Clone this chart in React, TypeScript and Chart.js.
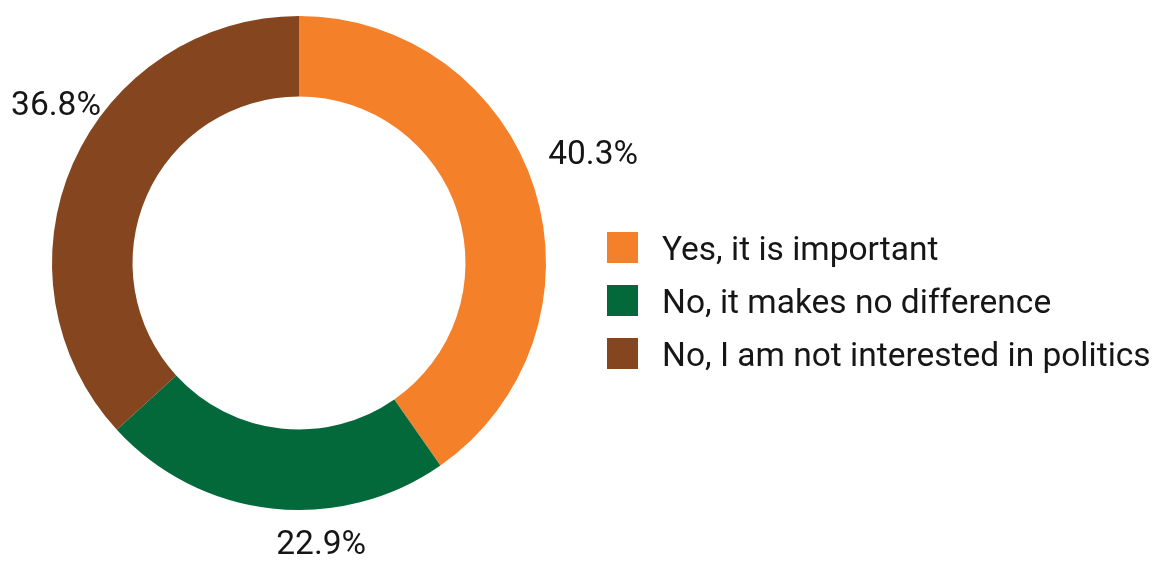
import React, { useEffect, useRef } from "react";
import { Chart, registerables } from "chart.js";

Chart.register(...registerables);

const categories = [
  "Yes, it is important",
  "No, it makes no difference",
  "No, I am not interested in politics",
];
const values = [40.3, 22.9, 36.8];
const valueLabels = ["40.3%", "22.9%", "36.8%"];
const colors = ["#F5802A", "#03683A", "#85461F"];
// small angular nudges (degrees) for the outside labels
const labelAngleShift = [-2.7, -10.8, 9.1];

const FONT = "Roboto, 'Noto Sans', sans-serif";
const TEXT_COLOR = "#161616";
const FONT_SIZE = 33.5;

const outsideLabels = {
  id: "outsideLabels",
  afterDatasetsDraw(chart: any) {
    const ctx = chart.ctx;
    const meta = chart.getDatasetMeta(0);
    ctx.save();
    ctx.font = `${FONT_SIZE}px ${FONT}`;
    ctx.fillStyle = TEXT_COLOR;
    ctx.textAlign = "center";
    ctx.textBaseline = "middle";
    const marginX = 11;
    const marginY = 2;
    meta.data.forEach((arc: any, i: number) => {
      const p = arc.getProps(["x", "y", "startAngle", "endAngle", "outerRadius"], true);
      const mid = (p.startAngle + p.endAngle) / 2 + (labelAngleShift[i] * Math.PI) / 180;
      const dx = Math.cos(mid);
      const dy = Math.sin(mid);
      const text = valueLabels[i];
      const w = ctx.measureText(text).width;
      const hw = w / 2;
      const hh = 12;
      const extent = Math.abs(dx) * hw + Math.abs(dy) * hh;
      let dist = p.outerRadius + 20 + extent;
      // pull inward along the direction until the label fits in the canvas
      for (let k = 0; k < 200; k++) {
        const cx = p.x + dx * dist;
        const cy = p.y + dy * dist;
        if (
          cx - hw >= marginX &&
          cx + hw <= chart.width - marginX &&
          cy - hh >= marginY &&
          cy + hh <= chart.height - marginY
        )
          break;
        dist -= 1;
      }
      ctx.fillText(text, p.x + dx * dist, p.y + dy * dist + 1);
    });
    ctx.restore();
  },
};

const sideLegend = {
  id: "sideLegend",
  afterDraw(chart: any) {
    const ctx = chart.ctx;
    ctx.save();
    ctx.font = `${FONT_SIZE}px ${FONT}`;
    ctx.textAlign = "left";
    ctx.textBaseline = "middle";
    const boxX = 607;
    const box = 31;
    const firstTop = 232;
    const rowGap = 53;
    const labels = chart.data.labels as string[];
    const bg = chart.data.datasets[0].backgroundColor as string[];
    labels.forEach((lab, i) => {
      const top = firstTop + i * rowGap;
      ctx.fillStyle = bg[i];
      ctx.fillRect(boxX, top, box, box);
      ctx.fillStyle = TEXT_COLOR;
      ctx.fillText(lab, 662, top + box / 2 + 4);
    });
    ctx.restore();
  },
};

export default function App() {
  const ref = useRef<HTMLCanvasElement>(null);
  useEffect(() => {
    if (!ref.current) return;
    const chart = new Chart(ref.current, {
      type: "doughnut",
      data: {
        labels: categories,
        datasets: [
          {
            data: values,
            backgroundColor: colors,
            borderWidth: 0,
          },
        ],
      },
      options: {
        responsive: false,
        animation: false,
        cutout: "67.4%",
        layout: { padding: { left: 52, right: 610, top: 16, bottom: 51 } },
        plugins: {
          legend: { display: false },
          tooltip: { enabled: false },
        },
        events: [],
      },
      plugins: [outsideLabels, sideLegend],
    });
    return () => chart.destroy();
  }, []);
  return (
    <div style={{ position: "absolute", left: 0, top: 0, width: 1156, height: 561, background: "#fff" }}>
      <canvas ref={ref} width={1156} height={561} style={{ display: "block" }} />
    </div>
  );
}
